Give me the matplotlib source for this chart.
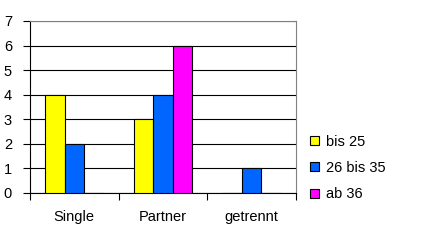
import matplotlib
matplotlib.use("Agg")
import matplotlib.pyplot as plt
import numpy as np

categories = ["Single", "Partner", "getrennt"]
series_names = ["bis 25", "26 bis 35", "ab 36"]
bis25 = [4, 3, 0]
b26_35 = [2, 4, 1]
ab36 = [0, 6, 0]
colors = ["#FFFF00", "#0066FF", "#FF00FF"]
yticks = [0, 1, 2, 3, 4, 5, 6, 7]

plt.rcParams['font.family'] = ['Liberation Sans', 'DejaVu Sans']
fig = plt.figure(figsize=(4.23, 2.42), dpi=100)
W, H = 423, 242
ax = fig.add_axes([30 / W, 1 - 193 / H, 266 / W, 172 / H])

x = np.arange(len(categories))
bw = 0.22
for i, (vals, name, c) in enumerate(zip([bis25, b26_35, ab36], series_names, colors)):
    ax.bar(x + (i - 1) * bw, vals, bw, color=c, edgecolor="black", linewidth=0.8,
           label=name, zorder=3)

fs = 10.5
ax.set_xlim(-0.5, 2.5)
ax.set_ylim(0, 7)
ax.set_yticks(yticks)
ax.set_yticklabels([str(t) for t in yticks], fontsize=fs)
ax.yaxis.grid(True, color="black", linewidth=0.8, zorder=0)
ax.set_axisbelow(True)

ax.set_xticks([-0.5, 0.5, 1.5, 2.5])
ax.set_xticklabels([])
ax.set_xticks(x, minor=True)
ax.set_xticklabels(categories, minor=True, fontsize=fs)
ax.tick_params(axis="x", which="minor", length=0, pad=12)
ax.tick_params(axis="x", which="major", length=5, width=0.8, color="black")
ax.tick_params(axis="y", length=5, width=0.8, pad=8)

ax.spines["top"].set_color("#808080")
ax.spines["right"].set_color("#808080")
for s in ax.spines.values():
    s.set_linewidth(0.8)

leg = ax.legend(loc="center left", bbox_to_anchor=(310 / W, 1 - 168 / H),
                bbox_transform=fig.transFigure, frameon=False, fontsize=fs,
                handlelength=0.6, handleheight=0.6, handletextpad=0.5,
                labelspacing=0.85, borderaxespad=0, borderpad=0)

fig.savefig("out.png", dpi=100)
